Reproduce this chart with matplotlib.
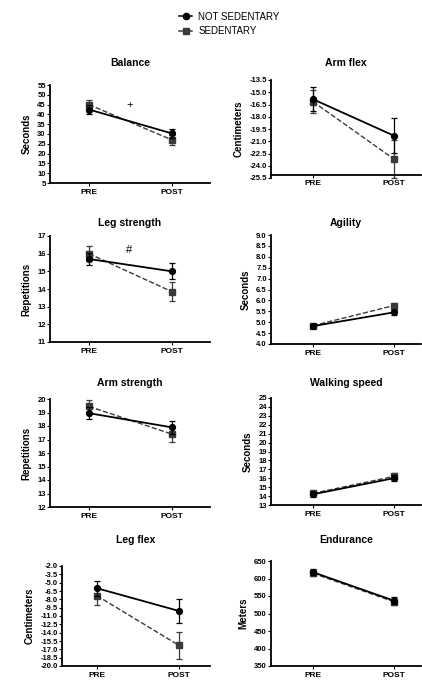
import numpy as np
import matplotlib
matplotlib.use("Agg")
import matplotlib.pyplot as plt
from matplotlib.lines import Line2D

plt.rcParams['font.family'] = ['Liberation Sans', 'DejaVu Sans']

#time points
times = ["PRE", "POST"]

#panel titles and y labels
titles = ["Balance", "Arm flex", "Leg strength", "Agility",
          "Arm strength", "Walking speed", "Leg flex", "Endurance"]
ylabels = ["Seconds", "Centimeters", "Repetitions", "Seconds",
           "Repetitions", "Seconds", "Centimeters", "Meters"]

#means (pre, post) and error for not sedentary / sedentary
balance_ns = [42.5, 30.3]
balance_ns_err = [2.3, 2.4]
balance_sed = [45.0, 27.0]
balance_sed_err = [2.5, 2.6]

armflex_ns = [-15.85, -20.3]
armflex_ns_err = [1.45, 2.15]
armflex_sed = [-16.15, -23.15]
armflex_sed_err = [1.45, 2.35]

legstr_ns = [15.7, 15.0]
legstr_ns_err = [0.36, 0.45]
legstr_sed = [16.0, 13.85]
legstr_sed_err = [0.42, 0.52]

agility_ns = [4.82, 5.45]
agility_ns_err = [0.08, 0.12]
agility_sed = [4.84, 5.76]
agility_sed_err = [0.08, 0.14]

armstr_ns = [18.95, 17.9]
armstr_ns_err = [0.45, 0.5]
armstr_sed = [19.45, 17.4]
armstr_sed_err = [0.48, 0.55]

walk_ns = [14.2, 16.0]
walk_ns_err = [0.3, 0.35]
walk_sed = [14.3, 16.2]
walk_sed_err = [0.3, 0.4]

legflex_ns = [-6.0, -10.1]
legflex_ns_err = [1.35, 2.2]
legflex_sed = [-7.35, -16.3]
legflex_sed_err = [1.6, 2.35]

endur_ns = [618, 537]
endur_ns_err = [9, 10]
endur_sed = [615, 534]
endur_sed_err = [9, 11]

ns_data = [(balance_ns, balance_ns_err), (armflex_ns, armflex_ns_err),
           (legstr_ns, legstr_ns_err), (agility_ns, agility_ns_err),
           (armstr_ns, armstr_ns_err), (walk_ns, walk_ns_err),
           (legflex_ns, legflex_ns_err), (endur_ns, endur_ns_err)]
sed_data = [(balance_sed, balance_sed_err), (armflex_sed, armflex_sed_err),
            (legstr_sed, legstr_sed_err), (agility_sed, agility_sed_err),
            (armstr_sed, armstr_sed_err), (walk_sed, walk_sed_err),
            (legflex_sed, legflex_sed_err), (endur_sed, endur_sed_err)]

#y ticks for each panel
yticks = [np.arange(5, 56, 5), np.arange(-25.5, -13.4, 1.5),
          np.arange(11, 18, 1), np.arange(4.0, 9.01, 0.5),
          np.arange(12, 21, 1), np.arange(13, 26, 1),
          np.arange(-20.0, -1.9, 1.5), np.arange(350, 651, 50)]
yfmt = ["%d", "%.1f", "%d", "%.1f", "%d", "%d", "%.1f", "%d"]

#axes boxes in pixels: left, right, top, bottom
W, H = 422, 681
boxes = [(50, 210, 85, 183), (271, 421, 80, 178),
         (50, 210, 236, 342), (271, 421, 235, 344),
         (50, 210, 399, 507), (271, 421, 398, 505),
         (62, 210, 566, 666), (271, 421, 561, 666)]
title_y = [60, 60, 220, 220, 380, 380, 537, 537]
xlims = [(-0.47, 1.46), (-0.52, 1.34)] * 3 + [(-0.425, 1.376), (-0.52, 1.34)]

fig = plt.figure(figsize=(W/100, H/100), dpi=100)

x = np.arange(len(times))
for i in range(8):
    l, r, t, b = boxes[i]
    ax = fig.add_axes([l/W, 1 - b/H, (r-l)/W, (b-t)/H])
    if i == 1:
        ax.spines["bottom"].set_position(("data", -25.1))
    m, e = sed_data[i]
    ax.errorbar(x, m, yerr=e, color="#3a3a3a", ls="--", lw=1.0, marker="s",
                ms=4.2, capsize=2.5, elinewidth=0.9, capthick=0.9, clip_on=False, zorder=2)
    m, e = ns_data[i]
    ax.errorbar(x, m, yerr=e, color="black", ls="-", lw=1.3, marker="o",
                ms=4.2, capsize=2.5, elinewidth=0.9, capthick=0.9, clip_on=False, zorder=3)
    ax.set_xlim(xlims[i])
    ax.set_ylim(yticks[i][0], yticks[i][-1])
    ax.set_yticks(yticks[i])
    ax.set_yticklabels([yfmt[i] % v for v in yticks[i]], fontsize=5.5, fontweight="bold")
    ax.set_xticks(x)
    ax.set_xticklabels(times, fontsize=6, fontweight="bold")
    ax.tick_params(axis="y", length=2.5, width=0.8, pad=0.5)
    ax.tick_params(axis="x", length=2.0, width=0.8, pad=2)
    ax.spines["top"].set_visible(False)
    ax.spines["right"].set_visible(False)
    ax.spines["left"].set_linewidth(1.3)
    ax.spines["bottom"].set_linewidth(1.3)
    ax.set_ylabel(ylabels[i], fontsize=7, fontweight="bold", labelpad=4)
    ax.set_title(titles[i], fontsize=7.5, fontweight="bold", pad=(t - title_y[i]) * 0.72 - 4)

#significance marks
fig.axes[0].text(0.49, 45, "+", fontsize=8, ha="center", va="center")
fig.axes[2].text(0.48, 16.2, "#", fontsize=8, ha="center", va="center")

handles = [Line2D([], [], color="black", ls="-", marker="o", ms=4.5, lw=1.1),
           Line2D([], [], color="#3a3a3a", ls="-", marker="s", ms=4.5, lw=1.1)]
fig.legend(handles, ["NOT SEDENTARY", "SEDENTARY"], loc="upper left",
           bbox_to_anchor=(170/W, 1 - 3/H), frameon=False, fontsize=7,
           handlelength=1.4, handletextpad=0.6, labelspacing=0.45)

fig.savefig("out.png", dpi=100)
